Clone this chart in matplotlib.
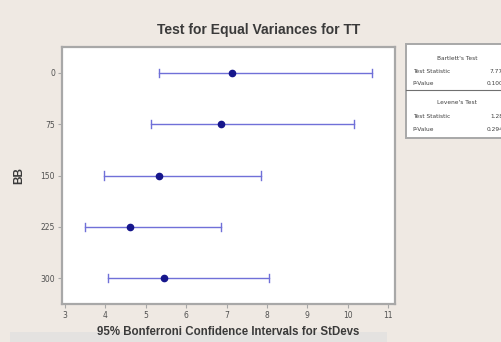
import matplotlib
matplotlib.use("Agg")
import matplotlib.pyplot as plt
from matplotlib.patches import Rectangle
from matplotlib.lines import Line2D

# Bonferroni 95% confidence intervals for the standard deviation of TT, by BB level
levels = ["0", "75", "150", "225", "300"]
stdev = [7.13, 6.86, 5.33, 4.60, 5.45]
ci_low = [5.33, 5.13, 3.97, 3.50, 4.06]
ci_high = [10.60, 10.15, 7.85, 6.86, 8.05]
x_ticks = [3, 4, 5, 6, 7, 8, 9, 10, 11]

bartlett_stat = "7.77"
bartlett_p = "0.100"
levene_stat = "1.28"
levene_p = "0.294"

bg = "#efe9e3"
line_col = "#7070d8"
dot_col = "#16168c"
frame_col = "#a8a8a8"
text_col = "#505050"

fig = plt.figure(figsize=(5.02, 3.42), dpi=100, facecolor=bg)
ax = fig.add_axes([0.1235, 0.111, 0.6635, 0.7515])
ax.set_facecolor("white")

ypos = list(range(len(levels)))
for y, lo, hi, s in zip(ypos, ci_low, ci_high, stdev):
    ax.plot([lo, hi], [y, y], color=line_col, lw=1.0, zorder=2)
    ax.plot([lo, lo], [y - 0.08, y + 0.08], color=line_col, lw=1.0, zorder=2)
    ax.plot([hi, hi], [y - 0.08, y + 0.08], color=line_col, lw=1.0, zorder=2)
ax.plot(stdev, ypos, "o", color=dot_col, ms=4.5, zorder=3, ls="none")

ax.set_xlim(2.93, 11.17)
ax.set_ylim(4.5, -0.5)
ax.set_xticks(x_ticks)
ax.set_xticklabels([str(t) for t in x_ticks])
ax.set_yticks(ypos)
ax.set_yticklabels(levels)
ax.tick_params(axis="both", colors=frame_col, labelcolor=text_col, labelsize=5.5,
               length=3, width=0.8, pad=2)

for sp in ax.spines.values():
    sp.set_color(frame_col)
    sp.set_linewidth(1.6)

ax.set_xlabel("95% Bonferroni Confidence Intervals for StDevs", fontsize=8.3,
              fontweight="bold", color="#3a3a3a", family="Liberation Sans", labelpad=4)
ax.set_ylabel("BB", fontsize=8.5, fontweight="bold", color="#3a3a3a",
              family="Liberation Sans", labelpad=11)

fig.text(0.516, 0.912, "Test for Equal Variances for TT", ha="center", va="center",
         fontsize=10, fontweight="bold", color="#3a3a3a", family="Liberation Sans")

# Test results panel
box_l, box_b, box_t = 0.809, 0.596, 0.871
fig.patches.append(Rectangle((box_l, box_b), 0.3, box_t - box_b, transform=fig.transFigure,
                             facecolor="white", edgecolor=frame_col, lw=1.4))
fs = 4.2
tc = "#404040"
fig.text(0.91, 0.830, "Bartlett's Test", ha="center", va="center", fontsize=fs, color=tc)
fig.text(0.822, 0.790, "Test Statistic", ha="left", va="center", fontsize=fs, color=tc)
fig.text(1.002, 0.790, bartlett_stat, ha="right", va="center", fontsize=fs, color=tc)
fig.text(0.822, 0.757, "P-Value", ha="left", va="center", fontsize=fs, color=tc)
fig.text(1.002, 0.757, bartlett_p, ha="right", va="center", fontsize=fs, color=tc)
fig.lines.append(Line2D([box_l, 1.0], [0.737, 0.737], transform=fig.transFigure,
                        color="#707070", lw=0.8))
fig.text(0.91, 0.700, "Levene's Test", ha="center", va="center", fontsize=fs, color=tc)
fig.text(0.822, 0.658, "Test Statistic", ha="left", va="center", fontsize=fs, color=tc)
fig.text(1.002, 0.658, levene_stat, ha="right", va="center", fontsize=fs, color=tc)
fig.text(0.822, 0.620, "P-Value", ha="left", va="center", fontsize=fs, color=tc)
fig.text(1.002, 0.620, levene_p, ha="right", va="center", fontsize=fs, color=tc)

# faint band along the bottom edge
fig.patches.append(Rectangle((0.02, 0.0), 0.75, 0.03, transform=fig.transFigure,
                             facecolor="#e4e2e0", edgecolor="none", zorder=-1))

fig.savefig("out.png", dpi=100, facecolor=bg)
